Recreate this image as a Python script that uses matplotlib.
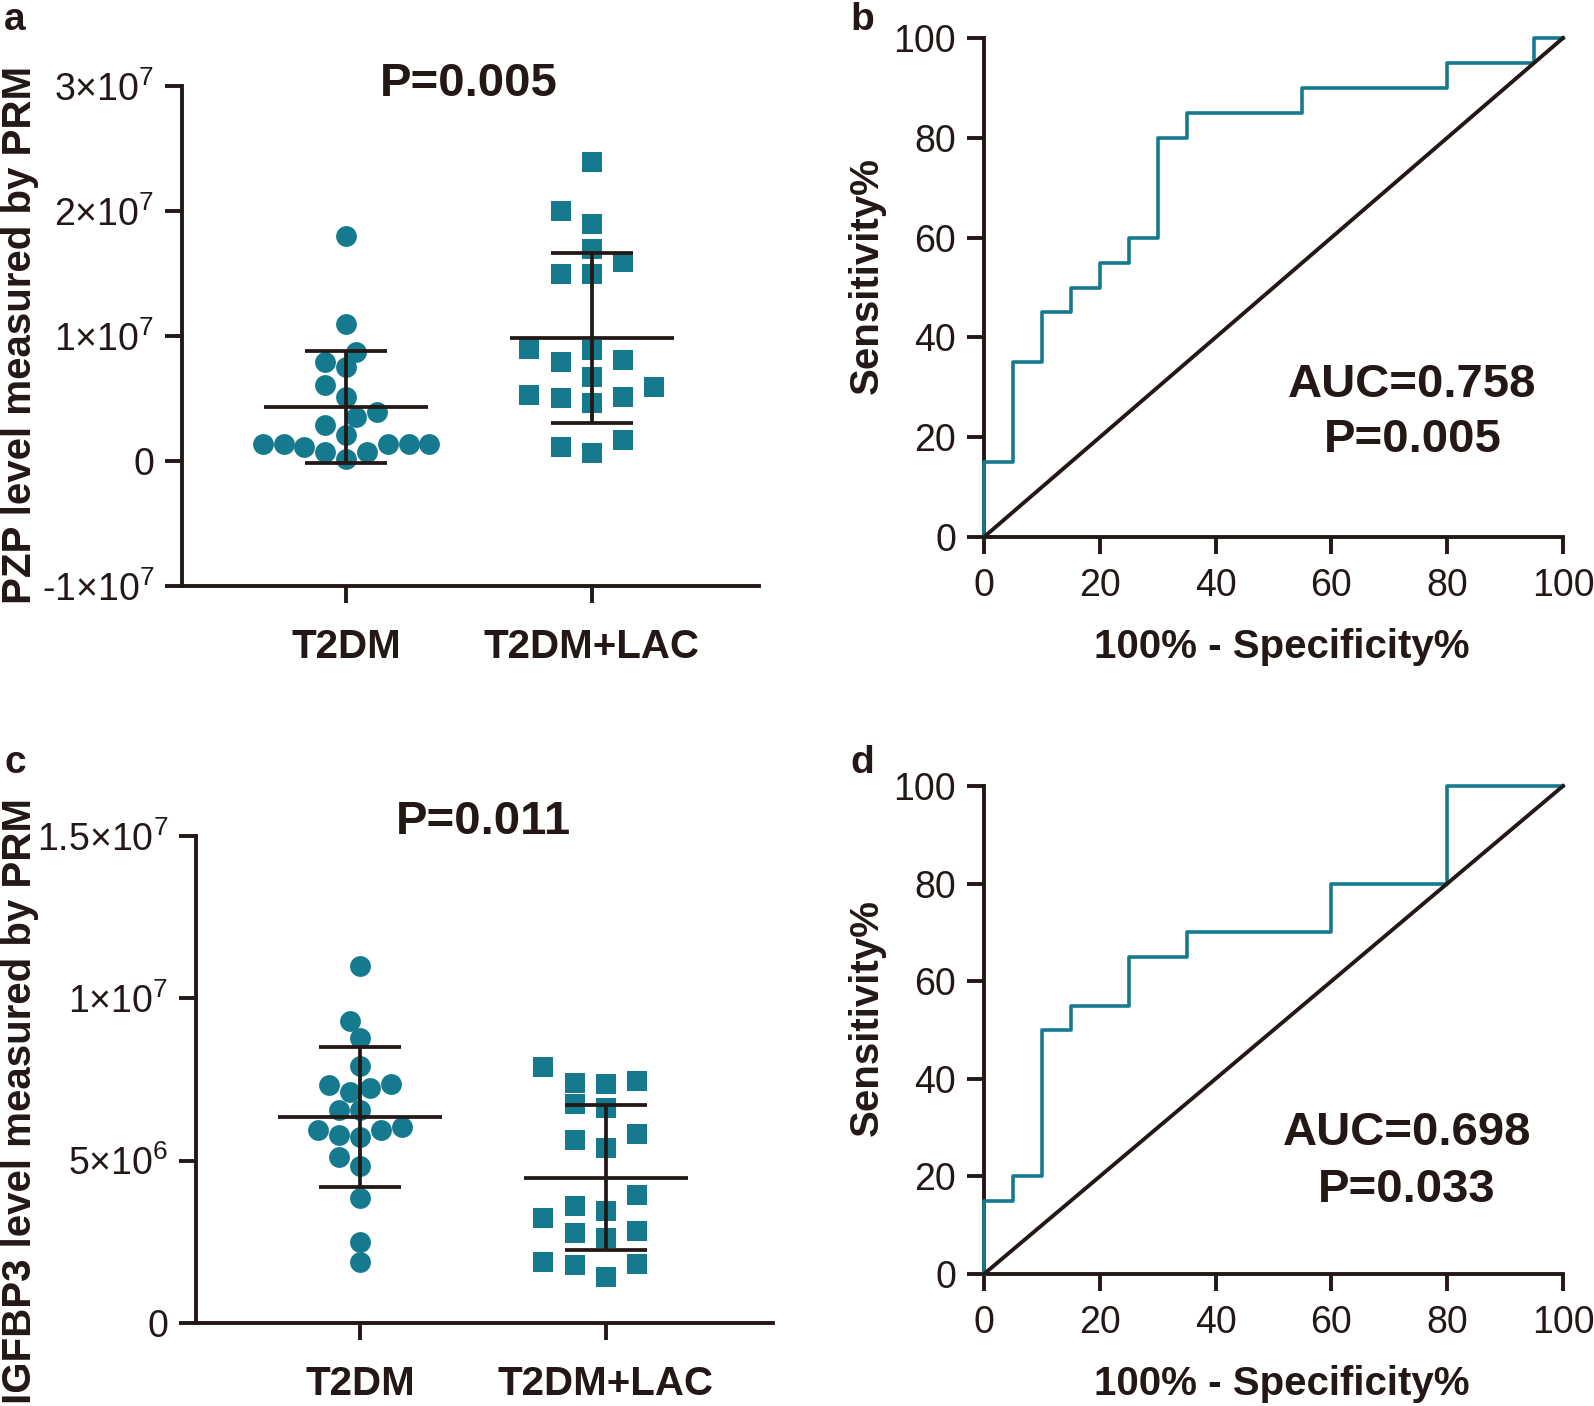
import numpy as np
import matplotlib.pyplot as plt

plt.rcParams['font.family'] = ['Liberation Sans', 'DejaVu Sans']
plt.rcParams['mathtext.fontset'] = 'custom'
plt.rcParams['mathtext.rm'] = 'Liberation Sans'
plt.rcParams['mathtext.it'] = 'Liberation Sans:italic'
plt.rcParams['mathtext.bf'] = 'Liberation Sans:bold'

teal = '#167A8F'
ink = '#231815'

groups = ['T2DM', 'T2DM+LAC']

# panel a: PZP level (units of 1e7)
pzp_t2dm = np.array([1.80, 1.10, 0.875, 0.795, 0.75, 0.61, 0.51, 0.395, 0.35, 0.29,
                     0.21, 0.14, 0.115, 0.075, 0.14, 0.14, 0.14, 0.075, 0.14, 0.015]) * 1e7
pzp_lac = np.array([2.395, 2.0, 1.90, 1.70, 1.595, 1.50, 1.50, 0.888, 0.90, 0.795,
                    0.81, 0.675, 0.59, 0.53, 0.507, 0.467, 0.515, 0.168, 0.115, 0.067]) * 1e7
pzp_ticks = [-1e7, 0, 1e7, 2e7, 3e7]
pzp_ticklabels = ['-1×10$^{7}$', '0', '1×10$^{7}$', '2×10$^{7}$', '3×10$^{7}$']

# panel c: IGFBP3 level (units of 1e6)
igf_t2dm = np.array([11.01, 9.31, 8.79, 7.92, 7.35, 7.23, 7.33, 7.12, 6.55, 6.55,
                     6.03, 5.93, 5.93, 5.72, 5.80, 5.12, 4.85, 3.85, 2.51, 1.89]) * 1e6
igf_lac = np.array([7.90, 7.38, 7.35, 7.45, 6.73, 6.63, 5.82, 5.63, 5.39, 3.95,
                    3.59, 3.45, 3.23, 2.63, 2.76, 2.84, 1.89, 1.81, 1.78, 1.41]) * 1e6
igf_ticks = [0, 5e6, 1e7, 1.5e7]
igf_ticklabels = ['0', '5×10$^{6}$', '1×10$^{7}$', '1.5×10$^{7}$']

# ROC corners (100% - specificity, sensitivity)
roc_b_fpr = [0, 0, 5, 10, 15, 20, 25, 30, 35, 55, 80, 95, 100]
roc_b_tpr = [0, 15, 35, 45, 50, 55, 60, 80, 85, 90, 95, 100, 100]
roc_d_fpr = [0, 0, 5, 10, 15, 25, 35, 60, 80, 100]
roc_d_tpr = [0, 15, 20, 50, 55, 65, 70, 80, 100, 100]
roc_ticks = [0, 20, 40, 60, 80, 100]

W, H = 1594, 1406
fig = plt.figure(figsize=(W / 100, H / 100), dpi=100)


# pixel box (left, top, right, bottom) -> figure fraction
def box(x0, y0, x1, y1):
    return [x0 / W, 1 - y1 / H, (x1 - x0) / W, (y1 - y0) / H]


def style(ax):
    for s in ['top', 'right']:
        ax.spines[s].set_visible(False)
    for s in ['left', 'bottom']:
        ax.spines[s].set_linewidth(2.8)
        ax.spines[s].set_color(ink)
        ax.spines[s].set_capstyle('projecting')
    ax.tick_params(length=12, width=2.8, color=ink, labelsize=27, labelcolor=ink)
    ax.tick_params(axis='y', pad=8)


# simple beeswarm: spread points sideways so the markers don't pile up
def swarm(ax, x0, vals, size, square=False):
    pts = ax.transData.transform(np.column_stack([np.full(len(vals), x0), vals]))
    unit = ax.transData.transform([(1, 0)])[0][0] - ax.transData.transform([(0, 0)])[0][0]
    step = size * 0.5
    placed = []
    xs = np.zeros(len(vals))
    for i in np.argsort(vals):
        px, py = pts[i]
        k = 0
        found = None
        while found is None:
            offs = [0] if k == 0 else [-k * step, k * step]
            for o in offs:
                cx = px + o
                hit = False
                for qx, qy in placed:
                    dx, dy = abs(cx - qx), abs(py - qy)
                    if square:
                        hit = dx < size * 1.3 and dy < size * 0.95
                    else:
                        hit = dx * dx + dy * dy < (0.9 * size) ** 2
                    if hit:
                        break
                if not hit:
                    found = cx
                    break
            k += 1
        placed.append((found, py))
        xs[i] = x0 + (found - px) / unit
    return xs


def mean_sd(ax, x0, vals):
    m = np.mean(vals)
    sd = np.std(vals, ddof=1)
    kw = dict(color=ink, lw=2.7, zorder=5, solid_capstyle='butt')
    ax.plot([x0 - 0.333, x0 + 0.333], [m, m], **kw)
    ax.plot([x0, x0], [m - sd, m + sd], **kw)
    ax.plot([x0 - 0.167, x0 + 0.167], [m - sd, m - sd], **kw)
    ax.plot([x0 - 0.167, x0 + 0.167], [m + sd, m + sd], **kw)


def dot_panel(ax, a, b, ylim, ticks, ticklabels):
    style(ax)
    ax.set_xlim(-0.667, 1.679)
    ax.set_ylim(*ylim)
    ax.set_yticks(ticks)
    ax.set_yticklabels(ticklabels)
    ax.set_xticks([0, 1])
    ax.set_xticklabels(groups, fontsize=29, fontweight='bold')
    ax.tick_params(axis='x', pad=18)
    ms = 15
    xa = swarm(ax, 0, a, ms / 0.72)
    xb = swarm(ax, 1, b, ms / 0.72, square=True)
    ax.plot(xa, a, 'o', ms=ms, color=teal, mew=0, clip_on=False, zorder=3)
    ax.plot(xb, b, 's', ms=ms, color=teal, mew=0, clip_on=False, zorder=3)
    mean_sd(ax, 0, a)
    mean_sd(ax, 1, b)


def roc_panel(ax, fpr, tpr):
    style(ax)
    ax.set_xlim(0, 100)
    ax.set_ylim(0, 100)
    ax.set_xticks(roc_ticks)
    ax.set_yticks(roc_ticks)
    ax.tick_params(axis='x', pad=10)
    ax.plot(fpr, tpr, drawstyle='steps-post', color=teal, lw=2.6, clip_on=False, zorder=3)
    ax.plot([0, 100], [0, 100], color=ink, lw=2.8, clip_on=False, zorder=4)


# a
ax_a = fig.add_axes(box(182, 86, 759, 586))
dot_panel(ax_a, pzp_t2dm, pzp_lac, (-1e7, 3e7), pzp_ticks, pzp_ticklabels)
ax_a.text(0.5, 2.92e7, 'P=0.005', ha='center', va='baseline', fontsize=34,
          fontweight='bold', color=ink, clip_on=False)

# b
ax_b = fig.add_axes(box(984, 38, 1563, 537))
roc_panel(ax_b, roc_b_fpr, roc_b_tpr)
ax_b.text(74, 28, 'AUC=0.758', ha='center', va='baseline', fontsize=34, fontweight='bold', color=ink)
ax_b.text(74, 17, 'P=0.005', ha='center', va='baseline', fontsize=34, fontweight='bold', color=ink)

# c
ax_c = fig.add_axes(box(196, 836, 773, 1323))
dot_panel(ax_c, igf_t2dm, igf_lac, (0, 1.5e7), igf_ticks, igf_ticklabels)
ax_c.text(0.5, 1.506e7, 'P=0.011', ha='center', va='baseline', fontsize=34,
          fontweight='bold', color=ink, clip_on=False)

# d
ax_d = fig.add_axes(box(984, 786, 1563, 1274))
roc_panel(ax_d, roc_d_fpr, roc_d_tpr)
ax_d.text(73, 26.5, 'AUC=0.698', ha='center', va='baseline', fontsize=34, fontweight='bold', color=ink)
ax_d.text(73, 14.8, 'P=0.033', ha='center', va='baseline', fontsize=34, fontweight='bold', color=ink)

# axis titles and panel letters placed in pixels
lab = dict(fontsize=29, fontweight='bold', color=ink)
fig.text(20 / W, 1 - 335 / H, 'PZP level measured by PRM', rotation=90, ha='center', va='center', **lab)
fig.text(20 / W, 1 - 1101 / H, 'IGFBP3 level measured by PRM', rotation=90, ha='center', va='center', **lab)
fig.text(867 / W, 1 - 275 / H, 'Sensitivity%', rotation=90, ha='center', va='center', **lab)
fig.text(867 / W, 1 - 1018 / H, 'Sensitivity%', rotation=90, ha='center', va='center', **lab)
fig.text(1282 / W, 1 - 658 / H, '100% - Specificity%', ha='center', va='baseline', **lab)
fig.text(1282 / W, 1 - 1395 / H, '100% - Specificity%', ha='center', va='baseline', **lab)

for letter, x, y in [('a', 15, 30), ('b', 862, 30), ('c', 15, 773), ('d', 862, 773)]:
    fig.text(x / W, 1 - y / H, letter, ha='center', va='baseline', fontsize=28, fontweight='bold', color=ink)

fig.savefig('out.png', dpi=100)
